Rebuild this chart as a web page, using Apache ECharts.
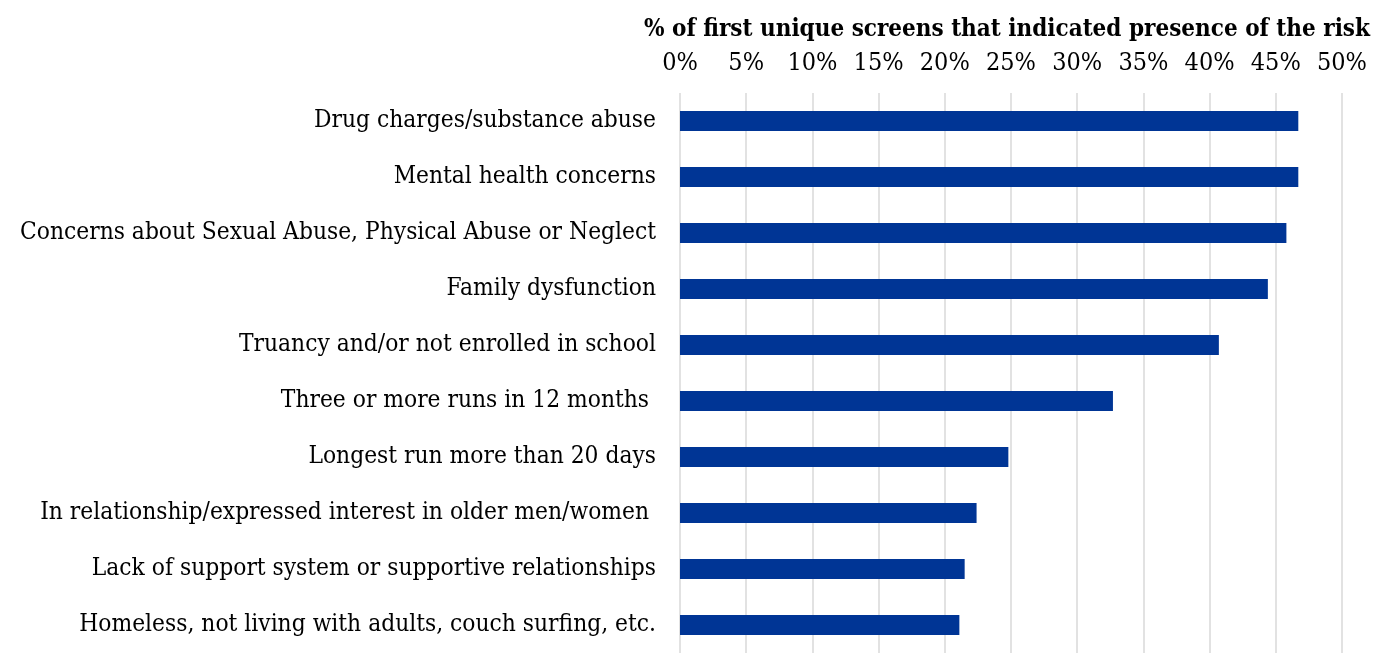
<!DOCTYPE html>
<html>
<head>
<meta charset="utf-8">
<style>
  html, body { margin: 0; padding: 0; background: #fff; }
  #chart { width: 1390px; height: 653px; }
</style>
<script src="https://cdn.jsdelivr.net/npm/echarts@6/dist/echarts.min.js"></script>
</head>
<body>
<div id="chart"></div>
<script>
// Risk factors, top to bottom
const categories = [
  'Drug charges/substance abuse',
  'Mental health concerns',
  'Concerns about Sexual Abuse, Physical Abuse or Neglect',
  'Family dysfunction',
  'Truancy and/or not enrolled in school',
  'Three or more runs in 12 months ',
  'Longest run more than 20 days',
  'In relationship/expressed interest in older men/women ',
  'Lack of support system or supportive relationships',
  'Homeless, not living with adults, couch surfing, etc.'
];

// Share of first unique screens indicating each risk (%)
const shares = [46.7, 46.7, 45.8, 44.4, 40.7, 32.7, 24.8, 22.4, 21.5, 21.1];

const axisTitle = '% of first unique screens that indicated presence of the risk';

const FONT = '"DejaVu Serif Condensed", "DejaVu Serif", serif';

const chart = echarts.init(document.getElementById('chart'));
chart.setOption({
  animation: false,
  backgroundColor: '#ffffff',
  grid: { left: 680, right: 48, top: 93, height: 562 },
  xAxis: {
    type: 'value',
    position: 'top',
    min: 0,
    max: 50,
    interval: 5,
    name: axisTitle,
    nameLocation: 'middle',
    nameGap: 51,
    nameTextStyle: {
      fontFamily: FONT, fontSize: 24, fontWeight: 'bold', color: '#000',
      padding: [0, 8, 0, 0]
    },
    axisLine: { show: false },
    axisTick: { show: false },
    axisLabel: {
      formatter: '{value}%',
      margin: 17,
      fontFamily: FONT,
      fontSize: 25,
      color: '#000'
    },
    splitLine: { show: true, lineStyle: { color: '#d9d9d9', width: 1.5 } }
  },
  yAxis: {
    type: 'category',
    inverse: true,
    data: categories,
    axisLine: { show: false },
    axisTick: { show: false },
    axisLabel: {
      margin: 24,
      fontFamily: FONT,
      fontSize: 24.3,
      color: '#000',
      padding: [5, 0, 0, 0]
    }
  },
  series: [{
    type: 'bar',
    data: shares,
    barWidth: 20,
    itemStyle: { color: '#003595' }
  }]
});
</script>
</body>
</html>
